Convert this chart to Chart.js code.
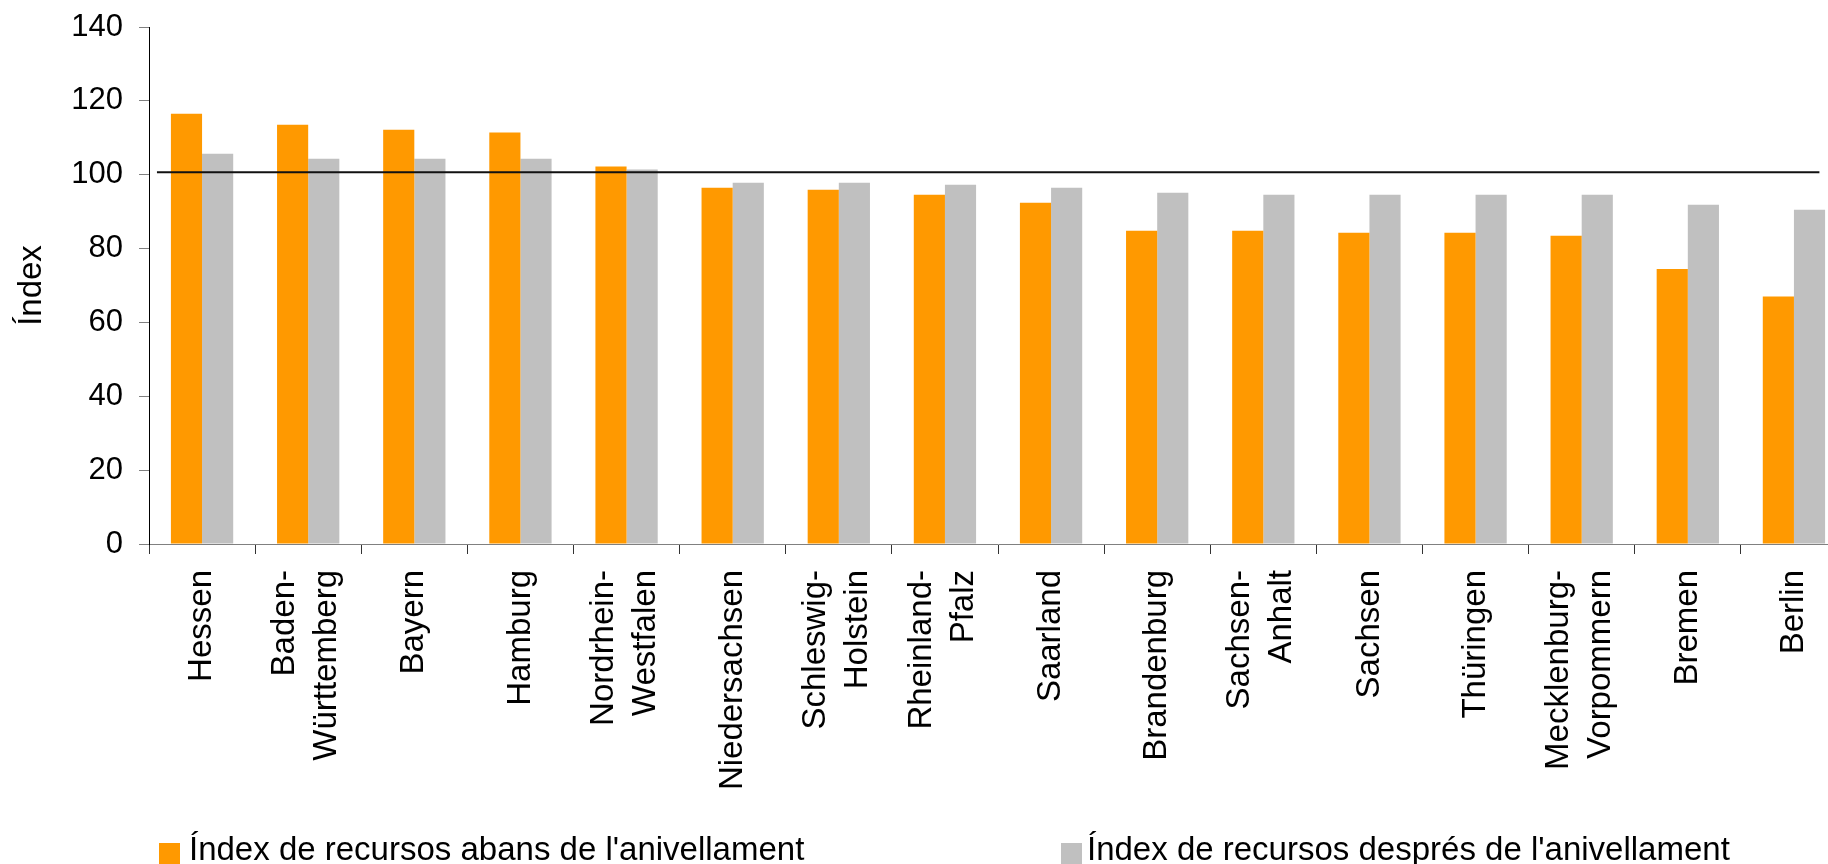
<!DOCTYPE html>
<html>
<head>
<meta charset="utf-8">
<script src="https://cdn.jsdelivr.net/npm/chart.js@4.4.1/dist/chart.umd.min.js"></script>
<style>
    html, body {
        margin: 0;
        padding: 0;
        background: #fff;
        width: 1828px;
        height: 864px;
        overflow: hidden;
        position: relative;
        font-family: "Liberation Sans", Arial, sans-serif;
    }
    #chart {
        position: absolute;
        left: 0;
        top: 0;
    }
    .legend-box {
        position: absolute;
        width: 21px;
        height: 21px;
    }
    .legend-text {
        position: absolute;
        font-size: 33px;
        line-height: 33px;
        color: #000;
        white-space: nowrap;
    }
</style>
</head>
<body>
<canvas id="chart" width="1850" height="864"></canvas>
<div id="legend"></div>
<script>
// categories (Länder), multi-line where the original wraps
const states = [
    "Hessen",
    ["Baden-", "Württemberg"],
    "Bayern",
    "Hamburg",
    ["Nordrhein-", "Westfalen"],
    "Niedersachsen",
    ["Schleswig-", "Holstein"],
    ["Rheinland-", "Pfalz"],
    "Saarland",
    "Brandenburg",
    ["Sachsen-", "Anhalt"],
    "Sachsen",
    "Thüringen",
    ["Mecklenburg-", "Vorpommern"],
    "Bremen",
    "Berlin",
];

const beforeLevelling = [116.5, 113.5, 112.2, 111.4, 102.2, 96.5, 95.9, 94.6, 92.4, 84.8, 84.8, 84.3, 84.3, 83.5, 74.5, 67.0];
const afterLevelling = [105.7, 104.3, 104.3, 104.3, 101.4, 97.8, 97.8, 97.3, 96.5, 95.1, 94.6, 94.6, 94.6, 94.6, 91.9, 90.5];

const seriesNames = [
    "Índex de recursos abans de l'anivellament",
    "Índex de recursos després de l'anivellament",
];
const seriesColors = ["#FF9900", "#C0C0C0"];

// horizontal reference line: start/end in category units, and its value
const refLineX = [-0.425, 15.24];
const refLineY = 100.7;

const yMin = 0;
const yMax = 140;
const yStep = 20;

const FONT = '"Liberation Sans", Arial, sans-serif';

// reference line drawn through the chart's own scales
const refLinePlugin = {
    id: "refLine",
    afterDatasetsDraw(chart) {
        const ctx = chart.ctx;
        const xs = chart.scales.x;
        const ys = chart.scales.y;
        const yPix = ys.getPixelForValue(refLineY);
        ctx.save();
        ctx.strokeStyle = "#111";
        ctx.lineWidth = 2;
        ctx.beginPath();
        ctx.moveTo(xs.getPixelForValue(refLineX[0]), yPix);
        ctx.lineTo(xs.getPixelForValue(refLineX[1]), yPix);
        ctx.stroke();
        ctx.restore();
    },
};

// rotated category labels, multi-line ones centred on the tick
const xLabelPlugin = {
    id: "xLabels",
    afterDraw(chart) {
        const ctx = chart.ctx;
        const xs = chart.scales.x;
        ctx.save();
        ctx.font = "33px " + FONT;
        ctx.fillStyle = "#000";
        ctx.textAlign = "right";
        ctx.textBaseline = "middle";
        chart.data.labels.forEach((lab, i) => {
            const lines = [].concat(lab);
            const cx = xs.getPixelForValue(i);
            const y = xs.top + 26;
            lines.forEach((line, j) => {
                ctx.save();
                ctx.translate(cx + (j - (lines.length - 1) / 2) * 42 - (lines.length - 1) * 2, y);
                ctx.rotate(-Math.PI / 2);
                ctx.fillText(line, 0, 0);
                ctx.restore();
            });
        });
        ctx.restore();
    },
};

new Chart(document.getElementById("chart"), {
    type: "bar",
    data: {
        labels: states,
        datasets: [
            {
                label: seriesNames[0],
                data: beforeLevelling,
                backgroundColor: seriesColors[0],
                barPercentage: 1,
                categoryPercentage: 0.587,
            },
            {
                label: seriesNames[1],
                data: afterLevelling,
                backgroundColor: seriesColors[1],
                barPercentage: 1,
                categoryPercentage: 0.587,
            },
        ],
    },
    options: {
        responsive: false,
        animation: false,
        devicePixelRatio: 1,
        layout: {
            padding: { top: 27, right: 3, bottom: 0, left: 0 },
        },
        plugins: {
            legend: { display: false },
            tooltip: { enabled: false },
        },
        scales: {
            x: {
                type: "category",
                offset: true,
                ticks: { display: false },
                grid: {
                    offset: true,
                    drawOnChartArea: false,
                    drawTicks: true,
                    tickLength: 10,
                    color: "#333",
                },
                border: { color: "#808080", width: 1 },
                afterFit(scale) {
                    scale.height = 320;
                },
            },
            y: {
                min: yMin,
                max: yMax,
                ticks: {
                    stepSize: yStep,
                    color: "#000",
                    padding: 16,
                    font: { family: FONT, size: 31 },
                },
                grid: {
                    drawOnChartArea: false,
                    drawTicks: true,
                    tickLength: 10,
                    color: "#808080",
                },
                border: { color: "#000", width: 1 },
                title: {
                    display: true,
                    text: "Índex",
                    color: "#000",
                    font: { family: FONT, size: 33 },
                    padding: { top: 12, bottom: 0 },
                },
                afterFit(scale) {
                    scale.width = 149;
                    scale.paddingTop = 0;
                    scale.paddingBottom = 0;
                },
            },
        },
    },
    plugins: [refLinePlugin, xLabelPlugin],
});

// legend as html, built from the series names and colours
const legendPos = [
    { box: 159, text: 189 },
    { box: 1061, text: 1087 },
];
const legend = document.getElementById("legend");
seriesNames.forEach((name, i) => {
    const box = document.createElement("div");
    box.className = "legend-box";
    box.style.left = legendPos[i].box + "px";
    box.style.top = "843px";
    box.style.background = seriesColors[i];
    legend.appendChild(box);

    const txt = document.createElement("div");
    txt.className = "legend-text";
    txt.style.left = legendPos[i].text + "px";
    txt.style.top = "832px";
    txt.textContent = name;
    legend.appendChild(txt);
});
</script>
</body>
</html>
